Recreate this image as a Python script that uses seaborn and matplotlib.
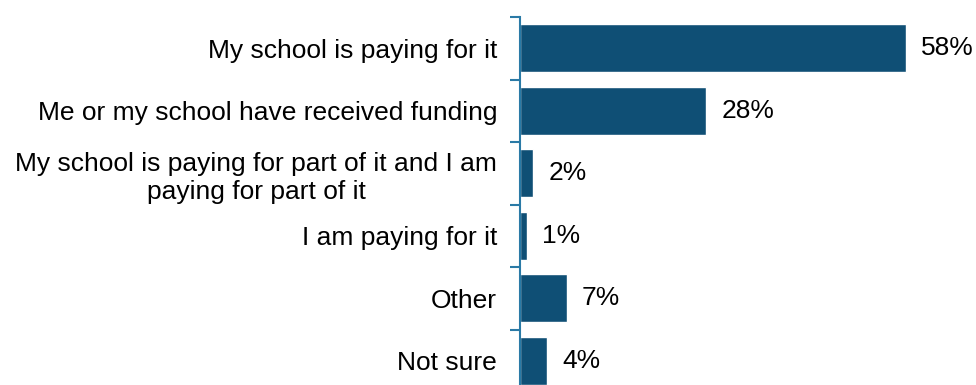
import matplotlib
matplotlib.use("Agg")
import matplotlib.pyplot as plt
import seaborn as sns
import pandas as pd
import numpy as np

categories = [
    "My school is paying for it",
    "Me or my school have received funding",
    "My school is paying for part of it and I am\npaying for part of it",
    "I am paying for it",
    "Other",
    "Not sure",
]
values = [58, 28, 2, 1, 7, 4]

sns.set_theme(style="white")
plt.rcParams["font.family"] = ["Liberation Sans", "DejaVu Sans"]

bar_color = "#0f4f75"
axis_color = "#2a7aa6"
text_color = "#000000"

df = pd.DataFrame({"category": categories, "value": values})

fig = plt.figure(figsize=(9.76, 3.85), dpi=100)
ax = fig.add_axes([520 / 976, -7 / 385, 456 / 976, 375 / 385])

sns.barplot(data=df, x="value", y="category", color=bar_color,
            width=0.77, saturation=1, ax=ax, orient="h")

ax.set_xlim(0, 68.6)
ax.set_ylim(len(categories) - 0.5, -0.5)
ax.set_xlabel("")
ax.set_ylabel("")
ax.set_xticks([])

for s in ["top", "right", "bottom"]:
    ax.spines[s].set_visible(False)
ax.spines["left"].set_color(axis_color)
ax.spines["left"].set_linewidth(1.5)

ax.set_yticks(range(len(categories)))
ax.set_yticklabels(categories, fontsize=19, color=text_color,
                   multialignment="center", linespacing=1.25)
ax.tick_params(axis="y", which="major", length=0, pad=16.5)
ax.set_yticks(np.arange(-0.5, len(categories), 1.0), minor=True)
ax.tick_params(axis="y", which="minor", length=7, width=1.5, color=axis_color, left=True)

for i, v in enumerate(values):
    ax.text(v + 2.3, i, f"{v}%", va="center", ha="left", fontsize=19, color=text_color)

fig.savefig("out.png", dpi=100)
